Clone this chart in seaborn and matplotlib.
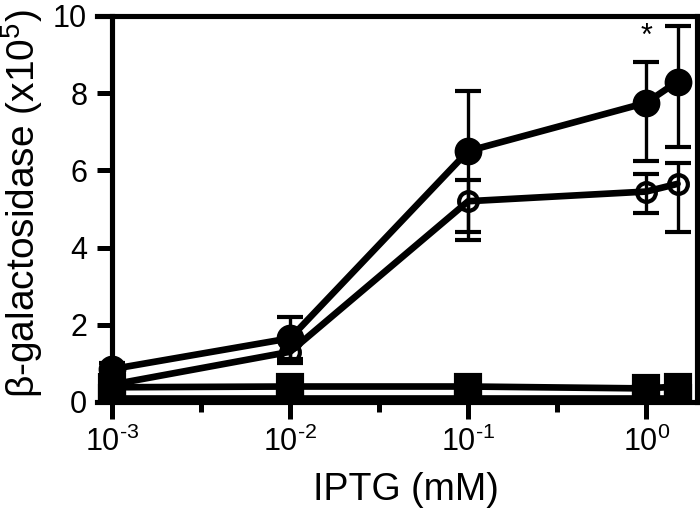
import numpy as np
import pandas as pd
import matplotlib
matplotlib.use("Agg")
import matplotlib.pyplot as plt
import seaborn as sns
from matplotlib.ticker import FixedLocator, FixedFormatter, NullFormatter

# ---- data ----
iptg = [0.001, 0.01, 0.1, 1.0, 1.5]

filled_circle = [0.85, 1.65, 6.5, 7.75, 8.3]
filled_circle_lo = [0.15, 0.55, 2.3, 1.5, 1.7]
filled_circle_hi = [0.15, 0.55, 1.55, 1.05, 1.45]

open_circle = [0.45, 1.3, 5.2, 5.45, 5.65]
open_circle_lo = [0.1, 0.3, 0.8, 0.55, 1.25]
open_circle_hi = [0.1, 0.3, 0.55, 0.45, 0.55]

filled_square = [0.38, 0.4, 0.4, 0.35, 0.4]
open_square = [0.1, 0.1, 0.1, 0.1, 0.1]

x_ticks = [1e-3, 1e-2, 1e-1, 1e0]
x_tick_labels = ["$\\mathregular{10^{\u20103}}$", "$\\mathregular{10^{\u20102}}$",
                 "$\\mathregular{10^{\u20101}}$", "$\\mathregular{10^{0}}$"]
x_minor = [10**-2.5, 10**-1.5, 10**-0.5]
y_ticks = [0, 2, 4, 6, 8, 10]

sns.set_theme(style="white")
plt.rcParams["font.family"] = ["Liberation Sans", "DejaVu Sans"]
plt.rcParams["mathtext.fontset"] = "custom"
plt.rcParams["mathtext.rm"] = "Liberation Sans"
plt.rcParams["mathtext.it"] = "Liberation Sans:italic"
plt.rcParams["mathtext.bf"] = "Liberation Sans:bold"
plt.rcParams["text.color"] = "black"
plt.rcParams["axes.labelcolor"] = "black"
plt.rcParams["xtick.color"] = "black"
plt.rcParams["ytick.color"] = "black"

fig = plt.figure(figsize=(7, 5.14), dpi=100)
ax = fig.add_axes([0.1386, 0.218, 0.857, 0.751])
ax.set_xscale("log")

LW = 4.8
# squares (open underneath, filled on top)
sns.lineplot(x=iptg, y=open_square, ax=ax, color="black", lw=LW, marker="s",
             markersize=17, markerfacecolor="white", markeredgecolor="black",
             markeredgewidth=3, clip_on=True, zorder=3)
sns.lineplot(x=iptg, y=filled_square, ax=ax, color="black", lw=LW, marker="s",
             markersize=17, markerfacecolor="black", markeredgecolor="black",
             markeredgewidth=3, clip_on=False, zorder=4)

# circles
sns.lineplot(x=iptg, y=open_circle, ax=ax, color="black", lw=LW, marker="o",
             markersize=13.5, markerfacecolor="none", markeredgecolor="black",
             markeredgewidth=3, clip_on=False, zorder=5)
sns.lineplot(x=iptg, y=filled_circle, ax=ax, color="black", lw=LW, marker="o",
             markersize=18, markerfacecolor="black", markeredgecolor="black",
             markeredgewidth=2, clip_on=False, zorder=6)

for y, lo, hi in [(filled_circle, filled_circle_lo, filled_circle_hi),
                  (open_circle, open_circle_lo, open_circle_hi)]:
    ax.errorbar(iptg, y, yerr=[lo, hi], fmt="none", ecolor="black",
                elinewidth=2.4, capsize=9.4, capthick=3, zorder=7, clip_on=False)

ax.text(1.0, 9.45, "*", ha="center", va="center", fontsize=22, color="black")

ax.set_xlim(10**-3.085, 10**0.285)
ax.set_ylim(0, 10)

# spines
for s in ax.spines.values():
    s.set_linewidth(3.7)
    s.set_color("black")
    s.set_visible(True)
    s.set_zorder(8)
ax.spines["left"].set_position(("data", 1e-3))

ax.xaxis.set_major_locator(FixedLocator(x_ticks))
ax.xaxis.set_major_formatter(FixedFormatter(x_tick_labels))
ax.xaxis.set_minor_locator(FixedLocator(x_minor))
ax.xaxis.set_minor_formatter(NullFormatter())
ax.set_yticks(y_ticks)
ax.set_yticklabels([str(v) for v in y_ticks])

ax.tick_params(axis="x", which="major", direction="out", length=12, width=3.6,
               color="black", labelcolor="black", labelsize=22, pad=6, bottom=True)
ax.tick_params(axis="x", which="minor", direction="out", length=7, width=3.6,
               color="black", bottom=True)
ax.tick_params(axis="y", which="major", direction="out", length=11, width=3.6,
               color="black", labelcolor="black", labelsize=22, pad=7, left=True)

ax.set_xlabel("IPTG (mM)", fontsize=27, color="black")
ax.set_ylabel("β-galactosidase (x10$\\mathregular{^5}$)", fontsize=28, color="black")
ax.xaxis.set_label_coords(0.515, -0.182)
ax.yaxis.set_label_coords(-0.087, 0.514)
ax.grid(False)

fig.savefig("out.png", dpi=100, facecolor="white")
